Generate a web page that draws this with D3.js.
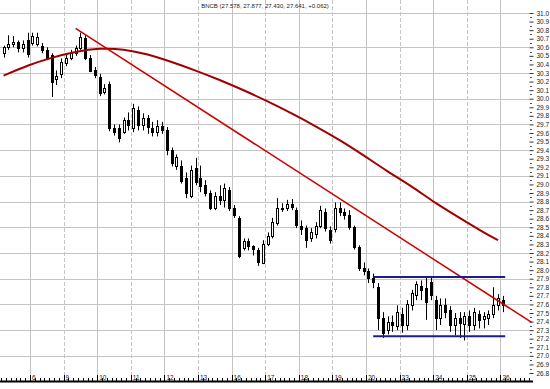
<!DOCTYPE html>
<html>
<head>
<meta charset="utf-8">
<script src="https://cdn.jsdelivr.net/npm/d3@7"></script>
<style>
  body { margin: 0; background: #fff; }
  svg { display: block; font-family: "Liberation Sans", Arial, sans-serif; }
</style>
</head>
<body>
<div class="board"></div>
<script>
// hourly bars, 7 per trading day
var opens = [30.53, 30.60, 30.64, 30.66, 30.59, 30.68, 30.65, 30.64, 30.62, 30.57,
  30.51, 30.22, 30.29, 30.41, 30.47, 30.53, 30.59, 30.71, 30.48, 30.33,
  30.25, 30.08, 30.17, 29.66, 29.66, 29.61, 29.75, 29.66, 29.87, 29.69,
  29.77, 29.66, 29.61, 29.68, 29.63, 29.40, 29.22, 29.22, 29.08, 28.87,
  29.19, 29.08, 28.99, 28.90, 28.73, 28.87, 28.82, 28.93, 28.72, 28.61,
  28.26, 28.34, 28.28, 28.23, 28.09, 28.31, 28.40, 28.56, 28.73, 28.72,
  28.77, 28.70, 28.52, 28.49, 28.37, 28.42, 28.51, 28.68, 28.47, 28.49,
  28.73, 28.68, 28.64, 28.50, 28.27, 28.02, 27.99, 27.91, 27.80, 27.44,
  27.30, 27.39, 27.35, 27.49, 27.36, 27.59, 27.71, 27.82, 27.79, 27.86,
  27.65, 27.44, 27.59, 27.53, 27.36, 27.44, 27.38, 27.47, 27.36, 27.49,
  27.42, 27.44, 27.49, 27.59, 27.65];
var highs = [30.62, 30.74, 30.73, 30.68, 30.68, 30.77, 30.77, 30.77, 30.65, 30.60,
  30.53, 30.33, 30.47, 30.51, 30.57, 30.62, 30.77, 30.74, 30.51, 30.37,
  30.29, 30.17, 30.20, 29.70, 29.70, 29.78, 29.84, 29.94, 29.91, 29.83,
  29.81, 29.73, 29.75, 29.73, 29.67, 29.43, 29.35, 29.28, 29.14, 29.22,
  29.31, 29.22, 29.05, 28.93, 28.91, 28.99, 29.01, 28.97, 28.76, 28.63,
  28.37, 28.37, 28.29, 28.26, 28.35, 28.44, 28.61, 28.84, 28.78, 28.82,
  28.83, 28.73, 28.58, 28.52, 28.49, 28.56, 28.75, 28.72, 28.51, 28.79,
  28.79, 28.72, 28.70, 28.52, 28.29, 28.09, 28.02, 27.96, 27.85, 27.51,
  27.46, 27.47, 27.59, 27.56, 27.65, 27.77, 27.87, 27.88, 27.91, 27.91,
  27.70, 27.67, 27.67, 27.58, 27.50, 27.51, 27.51, 27.53, 27.56, 27.53,
  27.51, 27.53, 27.80, 27.72, 27.70];
var lows = [30.48, 30.57, 30.60, 30.54, 30.54, 30.48, 30.62, 30.61, 30.53, 30.45,
  30.02, 30.16, 30.24, 30.38, 30.45, 30.50, 30.57, 30.45, 30.31, 30.24,
  30.03, 30.05, 29.62, 29.57, 29.49, 29.59, 29.63, 29.61, 29.63, 29.63,
  29.59, 29.56, 29.56, 29.59, 29.34, 29.21, 29.17, 29.01, 28.84, 28.84,
  28.99, 28.91, 28.86, 28.70, 28.70, 28.76, 28.73, 28.69, 28.61, 28.14,
  28.23, 28.23, 28.17, 28.05, 28.07, 28.28, 28.37, 28.52, 28.68, 28.69,
  28.70, 28.49, 28.41, 28.26, 28.33, 28.37, 28.49, 28.45, 28.31, 28.44,
  28.63, 28.59, 28.47, 28.24, 27.99, 27.94, 27.85, 27.79, 27.30, 27.21,
  27.25, 27.28, 27.30, 27.27, 27.30, 27.53, 27.65, 27.65, 27.42, 27.65,
  27.30, 27.36, 27.44, 27.28, 27.24, 27.21, 27.18, 27.28, 27.30, 27.32,
  27.32, 27.36, 27.44, 27.53, 27.51];
var closes = [30.60, 30.64, 30.66, 30.59, 30.64, 30.52, 30.73, 30.72, 30.57, 30.48,
  30.19, 30.26, 30.43, 30.47, 30.53, 30.59, 30.72, 30.48, 30.33, 30.27,
  30.06, 30.13, 29.66, 29.61, 29.54, 29.75, 29.69, 29.89, 29.69, 29.77,
  29.66, 29.61, 29.68, 29.63, 29.40, 29.25, 29.32, 29.05, 28.90, 29.17,
  29.03, 28.99, 28.90, 28.73, 28.87, 28.82, 28.96, 28.72, 28.64, 28.17,
  28.34, 28.28, 28.24, 28.09, 28.31, 28.40, 28.56, 28.73, 28.72, 28.77,
  28.73, 28.52, 28.49, 28.35, 28.44, 28.51, 28.70, 28.49, 28.35, 28.73,
  28.68, 28.64, 28.50, 28.27, 28.02, 27.99, 27.91, 27.86, 27.44, 27.27,
  27.39, 27.35, 27.51, 27.36, 27.61, 27.73, 27.84, 27.77, 27.63, 27.71,
  27.44, 27.59, 27.51, 27.36, 27.44, 27.38, 27.47, 27.36, 27.51, 27.42,
  27.46, 27.49, 27.59, 27.67, 27.59];

// moving average read at every 5th bar
var maIndex = [0, 5, 10, 15, 20, 25, 30, 35, 40, 45, 50, 55, 60, 65, 70, 75, 80, 85, 90, 95, 100, 103];
var maValues = [30.27, 30.39, 30.48, 30.55, 30.59, 30.58, 30.52, 30.43, 30.33, 30.22, 30.10,
  29.97, 29.83, 29.68, 29.52, 29.34, 29.15, 28.98, 28.78, 28.61, 28.44, 28.35];

var trendIndex = [15, 110];
var trendValues = [30.82, 27.39];

var channelIndex = [77, 104.5];
var channelLevels = [27.92, 27.23];

var dayLabels = ['6', '9', '10', '11', '12', '13', '16', '17', '18', '19', '20', '23', '24', '25', '26'];
var gridLevels = [31.0, 30.6, 30.3, 30.0, 29.7, 29.4, 29.1, 28.8, 28.5, 28.2, 27.9, 27.6, 27.3, 27.0];
var titleText = 'BNCB (27.578, 27.877, 27.430, 27.641, +0.062)';

var chart = {
  width: 550,
  height: 389,
  plotRight: 529,
  axisY: 381
};

var x = d3.scaleLinear().domain([0, 104]).range([3.6, 502.8]);
var y = d3.scaleLinear().domain([26.8, 31.0]).range([373, 13]);

var svg = d3.select('.board')
  .append('svg')
  .attr('width', chart.width)
  .attr('height', chart.height);

var px = function(v) { return Math.round(v) + 0.5; };

// grid
svg.append('g').selectAll('line.h')
  .data(gridLevels)
  .enter().append('line')
  .attr('x1', 0).attr('x2', chart.plotRight)
  .attr('y1', function(d) { return px(y(d)); })
  .attr('y2', function(d) { return px(y(d)); })
  .attr('stroke', '#c4c4c4').attr('stroke-width', 1);

svg.append('g').selectAll('line.v')
  .data(dayLabels)
  .enter().append('line')
  .attr('x1', function(d, i) { return px(x(5.5 + 7 * i)); })
  .attr('x2', function(d, i) { return px(x(5.5 + 7 * i)); })
  .attr('y1', 0).attr('y2', chart.axisY)
  .attr('stroke', '#c4c4c4').attr('stroke-width', 1)
  .attr('stroke-dasharray', function(d, i) { return i % 2 ? '4,2' : null; });

// right price axis
var yTicks = d3.range(268, 311).map(function(d) { return d / 10; });
var yAxis = d3.axisRight(y)
  .tickValues(yTicks)
  .tickFormat(d3.format('.1f'))
  .tickSize(4)
  .tickPadding(3);

var yG = svg.append('g')
  .attr('transform', 'translate(' + (chart.plotRight + 0.5) + ',0)')
  .call(yAxis);
yG.select('.domain').remove();
yG.selectAll('text').attr('font-size', '6.5px').attr('fill', '#222');
yG.selectAll('line').attr('stroke', '#333');

// minor price ticks
svg.append('g').selectAll('line')
  .data(yTicks.slice(0, -1))
  .enter().append('line')
  .attr('x1', chart.plotRight + 1).attr('x2', chart.plotRight + 3)
  .attr('y1', function(d) { return px(y(d + 0.05)); })
  .attr('y2', function(d) { return px(y(d + 0.05)); })
  .attr('stroke', '#555');

// time axis
var xG = svg.append('g');
xG.append('line')
  .attr('x1', 0).attr('x2', 533)
  .attr('y1', chart.axisY + 0.5).attr('y2', chart.axisY + 0.5)
  .attr('stroke', '#000').attr('stroke-width', 2);

xG.selectAll('line.tick')
  .data(d3.range(-0.5, 110, 1))
  .enter().append('line')
  .attr('x1', function(d) { return px(x(d)); })
  .attr('x2', function(d) { return px(x(d)); })
  .attr('y1', chart.axisY - 3).attr('y2', chart.axisY)
  .attr('stroke', '#000');

xG.selectAll('line.major')
  .data(dayLabels)
  .enter().append('line')
  .attr('x1', function(d, i) { return px(x(5.5 + 7 * i)); })
  .attr('x2', function(d, i) { return px(x(5.5 + 7 * i)); })
  .attr('y1', chart.axisY - 6).attr('y2', chart.axisY)
  .attr('stroke', '#000');

xG.selectAll('text')
  .data(dayLabels)
  .enter().append('text')
  .attr('x', function(d, i) { return x(5.5 + 7 * i) + 2; })
  .attr('y', chart.axisY - 1)
  .attr('font-size', '6.5px')
  .attr('fill', '#222')
  .text(function(d) { return d; });

// title
svg.append('text')
  .attr('x', 265).attr('y', 8)
  .attr('text-anchor', 'middle')
  .attr('font-size', '6px')
  .attr('fill', '#222')
  .text(titleText);

// candles
var bars = svg.append('g').selectAll('g')
  .data(opens.map(function(o, i) {
    return { i: i, o: o, h: highs[i], l: lows[i], c: closes[i] };
  }))
  .enter().append('g');

bars.append('line')
  .attr('x1', function(d) { return px(x(d.i)); })
  .attr('x2', function(d) { return px(x(d.i)); })
  .attr('y1', function(d) { return y(d.h); })
  .attr('y2', function(d) { return y(d.l); })
  .attr('stroke', '#000');

bars.append('rect')
  .attr('x', function(d) { return Math.round(x(d.i)) - 1 + 0.5; })
  .attr('width', 2)
  .attr('y', function(d) { return Math.round(y(Math.max(d.o, d.c))) + 0.5; })
  .attr('height', function(d) { return Math.max(1, Math.round(Math.abs(y(d.o) - y(d.c)))); })
  .attr('fill', function(d) { return d.c < d.o ? '#000' : '#fff'; })
  .attr('stroke', '#000')
  .attr('shape-rendering', 'crispEdges');

// moving average
var maLine = d3.line()
  .x(function(d) { return x(d[0]); })
  .y(function(d) { return y(d[1]); })
  .curve(d3.curveBasis);

svg.append('path')
  .datum(maIndex.map(function(d, i) { return [d, maValues[i]]; }))
  .attr('d', maLine)
  .attr('fill', 'none')
  .attr('stroke', '#a00000')
  .attr('stroke-width', 2);

// trendline
svg.append('line')
  .attr('x1', x(trendIndex[0])).attr('y1', y(trendValues[0]))
  .attr('x2', x(trendIndex[1])).attr('y2', y(trendValues[1]))
  .attr('stroke', '#cc0000')
  .attr('stroke-width', 1.5);

// range channel
svg.append('g').selectAll('line')
  .data(channelLevels)
  .enter().append('line')
  .attr('x1', x(channelIndex[0])).attr('x2', x(channelIndex[1]))
  .attr('y1', function(d) { return y(d); })
  .attr('y2', function(d) { return y(d); })
  .attr('stroke', '#1c1c8c')
  .attr('stroke-width', 2);
</script>
</body>
</html>
